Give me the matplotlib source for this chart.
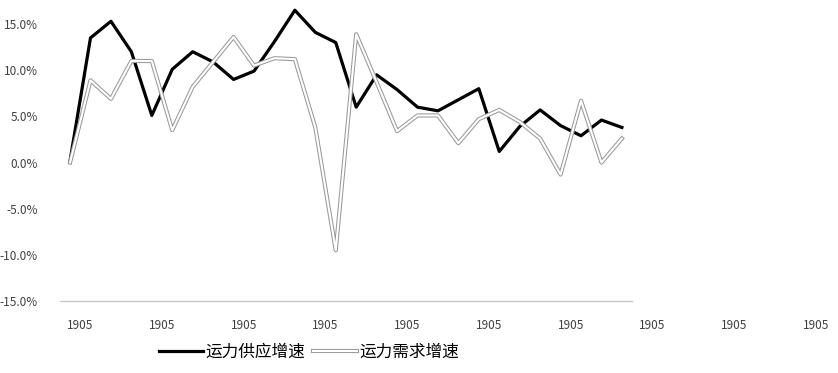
import numpy as np
import matplotlib.pyplot as plt
import matplotlib.patheffects as pe

plt.rcParams['font.family'] = ['Noto Sans CJK SC', 'DejaVu Sans']

# 运力供应 / 需求 增速 (%)
supply = [0.2, 13.5, 15.3, 12.0, 5.1, 10.1, 12.0, 10.9, 9.0, 9.9, 13.1, 16.5, 14.1, 13.0,
          6.0, 9.5, 7.9, 6.0, 5.6, 6.8, 8.0, 1.2, 3.9, 5.7, 4.0, 2.9, 4.6, 3.8]
demand = [0.0, 8.9, 6.9, 11.0, 11.0, 3.5, 8.2, 10.9, 13.6, 10.5, 11.3, 11.2, 3.8, -9.5,
          13.9, 8.7, 3.4, 5.1, 5.1, 2.1, 4.7, 5.7, 4.4, 2.6, -1.3, 6.7, 0.0, 2.6]
xlabels = ['1905'] * 10
yticks = [-15, -10, -5, 0, 5, 10, 15]

x = np.arange(len(supply))

fig = plt.figure(figsize=(8.38, 3.73), dpi=100)
ax = fig.add_axes([0.0714, 0.193, 0.9268, 0.792])

ax.plot(x, supply, color='black', lw=2.3, solid_joinstyle='round', label='运力供应增速')
ax.plot(x, demand, color='white', lw=1.5, solid_joinstyle='round', label='运力需求增速',
        path_effects=[pe.Stroke(linewidth=3.0, foreground='#999999', joinstyle='round'),
                      pe.Normal()])

ax.set_xlim(-0.5, 37.5)
ax.set_ylim(-15, 17)
ax.set_yticks(yticks)
ax.set_yticklabels([f'{v:.1f}%' for v in yticks])
ax.set_xticks(0.5 + 4 * np.arange(len(xlabels)))
ax.set_xticklabels(xlabels)

for s in ['top', 'right', 'left']:
    ax.spines[s].set_visible(False)
ax.spines['bottom'].set_color('#c8c8c8')
ax.spines['bottom'].set_linewidth(1.0)
ax.spines['bottom'].set_bounds(-0.5, 27.5)
ax.tick_params(axis='both', length=0, labelsize=8.5, colors='#404040')
ax.tick_params(axis='y', pad=16)
ax.tick_params(axis='x', pad=13)

fig.legend(loc='center', bbox_to_anchor=(0.369, 0.056), ncol=2, frameon=False,
           fontsize=12, handlelength=2.6, handletextpad=0.15, columnspacing=0.5)

fig.savefig('out.png', dpi=100)
